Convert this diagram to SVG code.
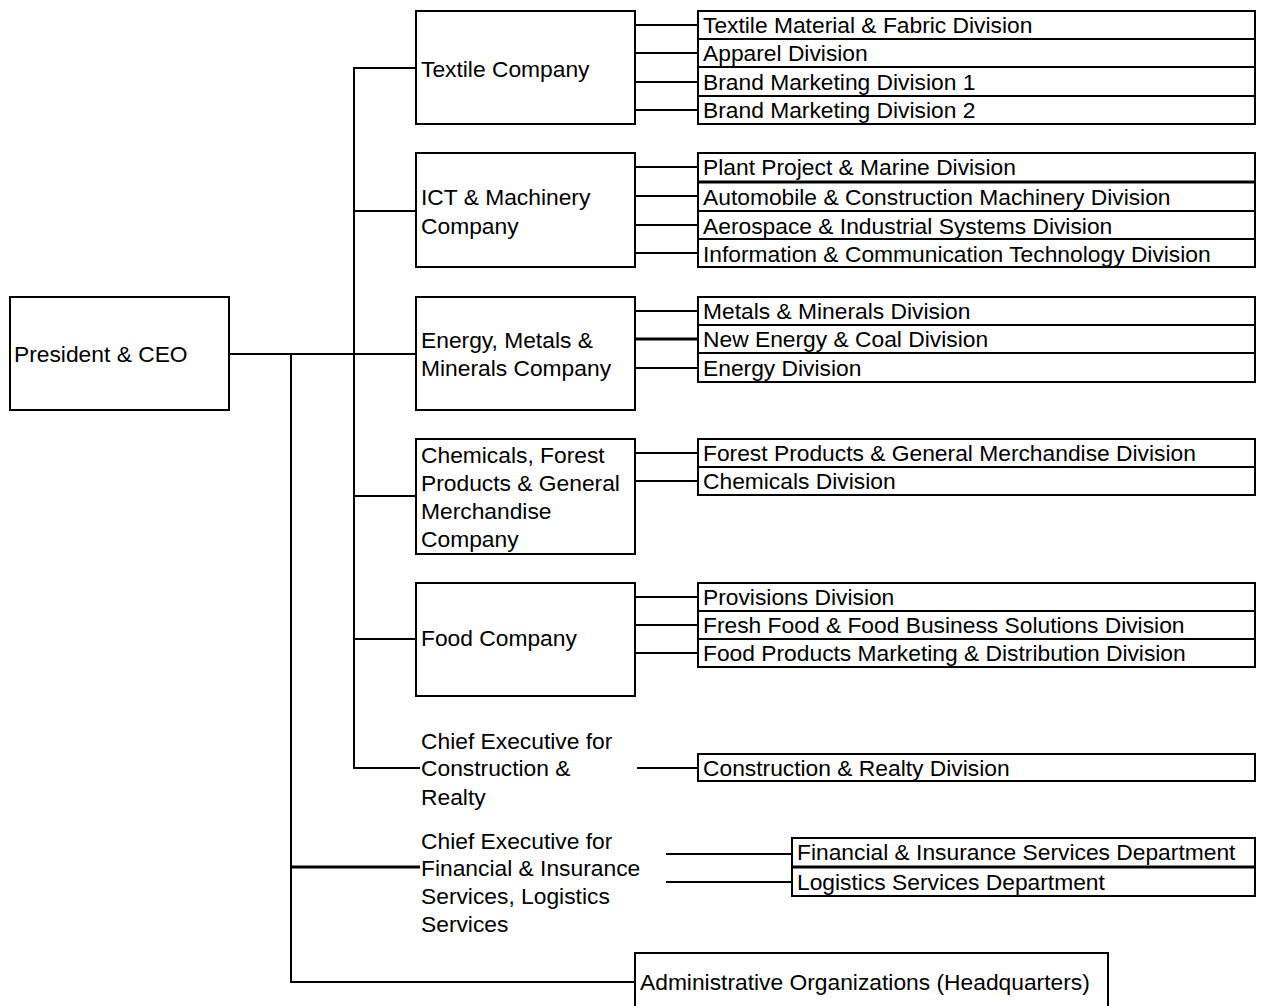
<svg xmlns="http://www.w3.org/2000/svg" width="1264" height="1006" viewBox="0 0 1264 1006">
<style>
.b{fill:#fff;stroke:#000;stroke-width:2}
.t{font-family:"Liberation Sans",Arial,sans-serif;font-size:22.8px;fill:#000}
.c line{stroke:#000;stroke-width:2}
</style>
<rect width="1264" height="1006" fill="#fff"/>
<g class="c" id="connectors">
<line x1="229" y1="354" x2="416" y2="354"/>
<line x1="291" y1="354" x2="291" y2="983"/>
<line x1="354" y1="68" x2="354" y2="769"/>
<line x1="353" y1="68" x2="416" y2="68"/>
<line x1="353" y1="211" x2="416" y2="211"/>
<line x1="353" y1="496" x2="416" y2="496"/>
<line x1="353" y1="639" x2="416" y2="639"/>
<line x1="353" y1="768" x2="420" y2="768"/>
<line x1="290" y1="867" x2="420" y2="867" style="stroke-width:3"/>
<line x1="290" y1="982" x2="635" y2="982"/>
<line x1="635" y1="25" x2="698" y2="25"/>
<line x1="635" y1="53" x2="698" y2="53"/>
<line x1="635" y1="82" x2="698" y2="82"/>
<line x1="635" y1="110" x2="698" y2="110"/>
<line x1="635" y1="167" x2="698" y2="167"/>
<line x1="635" y1="196" x2="698" y2="196"/>
<line x1="635" y1="225" x2="698" y2="225"/>
<line x1="635" y1="253" x2="698" y2="253"/>
<line x1="635" y1="311" x2="698" y2="311"/>
<line x1="635" y1="339" x2="698" y2="339" style="stroke-width:3"/>
<line x1="635" y1="368" x2="698" y2="368"/>
<line x1="635" y1="453" x2="698" y2="453"/>
<line x1="635" y1="481" x2="698" y2="481"/>
<line x1="635" y1="597" x2="698" y2="597"/>
<line x1="635" y1="625" x2="698" y2="625"/>
<line x1="635" y1="653" x2="698" y2="653"/>
<line x1="637" y1="768" x2="698" y2="768"/>
<line x1="666" y1="854" x2="792" y2="854"/>
<line x1="666" y1="882" x2="792" y2="882"/>
</g>
<g id="president"><rect class="b" x="10" y="297" width="219" height="113"/><text class="t" x="14" y="362">President &amp; CEO</text></g>
<g id="textile"><rect class="b" x="416" y="11" width="219" height="113"/><text class="t" x="421" y="77">Textile Company</text></g>
<g id="ict"><rect class="b" x="416" y="153" width="219" height="114"/><text class="t" x="421" y="205">ICT &amp; Machinery</text><text class="t" x="421" y="234">Company</text></g>
<g id="energy"><rect class="b" x="416" y="297" width="219" height="113"/><text class="t" x="421" y="348">Energy, Metals &amp;</text><text class="t" x="421" y="376">Minerals Company</text></g>
<g id="chemicals"><rect class="b" x="416" y="439" width="219" height="115"/><text class="t" x="421" y="463">Chemicals, Forest</text><text class="t" x="421" y="491">Products &amp; General</text><text class="t" x="421" y="519">Merchandise</text><text class="t" x="421" y="547">Company</text></g>
<g id="food"><rect class="b" x="416" y="583" width="219" height="113"/><text class="t" x="421" y="646">Food Company</text></g>
<g id="ce-construction"><text class="t" x="421" y="749">Chief Executive for</text><text class="t" x="421" y="776">Construction &amp;</text><text class="t" x="421" y="805">Realty</text></g>
<g id="ce-financial"><text class="t" x="421" y="849">Chief Executive for</text><text class="t" x="421" y="876">Financial &amp; Insurance</text><text class="t" x="421" y="904">Services, Logistics</text><text class="t" x="421" y="932">Services</text></g>
<g id="admin"><rect class="b" x="635" y="953" width="473" height="60"/><text class="t" x="640" y="990">Administrative Organizations (Headquarters)</text></g>
<g id="div-textile">
<rect class="b" x="698" y="11" width="557" height="28"/><text class="t" x="703" y="33">Textile Material &amp; Fabric Division</text>
<rect class="b" x="698" y="39" width="557" height="28"/><text class="t" x="703" y="61">Apparel Division</text>
<rect class="b" x="698" y="67" width="557" height="29"/><text class="t" x="703" y="90">Brand Marketing Division 1</text>
<rect class="b" x="698" y="96" width="557" height="28"/><text class="t" x="703" y="118">Brand Marketing Division 2</text>
</g>
<g id="div-ict">
<rect class="b" x="698" y="153" width="557" height="29"/><text class="t" x="703" y="175">Plant Project &amp; Marine Division</text>
<rect class="b" x="698" y="182" width="557" height="29"/><text class="t" x="703" y="205">Automobile &amp; Construction Machinery Division</text>
<rect class="b" x="698" y="211" width="557" height="28"/><text class="t" x="703" y="234">Aerospace &amp; Industrial Systems Division</text>
<rect class="b" x="698" y="239" width="557" height="28"/><text class="t" x="703" y="262">Information &amp; Communication Technology Division</text>
<line x1="698" y1="182" x2="1255" y2="182" stroke="#000" stroke-width="3"/>
</g>
<g id="div-energy">
<rect class="b" x="698" y="297" width="557" height="28"/><text class="t" x="703" y="319">Metals &amp; Minerals Division</text>
<rect class="b" x="698" y="325" width="557" height="28"/><text class="t" x="703" y="347">New Energy &amp; Coal Division</text>
<rect class="b" x="698" y="353" width="557" height="29"/><text class="t" x="703" y="376">Energy Division</text>
</g>
<g id="div-chemicals">
<rect class="b" x="698" y="439" width="557" height="28"/><text class="t" x="703" y="461">Forest Products &amp; General Merchandise Division</text>
<rect class="b" x="698" y="467" width="557" height="28"/><text class="t" x="703" y="489">Chemicals Division</text>
</g>
<g id="div-food">
<rect class="b" x="698" y="583" width="557" height="28"/><text class="t" x="703" y="605">Provisions Division</text>
<rect class="b" x="698" y="611" width="557" height="28"/><text class="t" x="703" y="633">Fresh Food &amp; Food Business Solutions Division</text>
<rect class="b" x="698" y="639" width="557" height="28"/><text class="t" x="703" y="661">Food Products Marketing &amp; Distribution Division</text>
</g>
<g id="div-construction">
<rect class="b" x="698" y="754" width="557" height="27"/><text class="t" x="703" y="776">Construction &amp; Realty Division</text>
</g>
<g id="dept-financial">
<rect class="b" x="792" y="838" width="463" height="29"/><text class="t" x="797" y="860">Financial &amp; Insurance Services Department</text>
<rect class="b" x="792" y="867" width="463" height="29"/><text class="t" x="797" y="890">Logistics Services Department</text>
<line x1="792" y1="867" x2="1255" y2="867" stroke="#000" stroke-width="3"/>
</g>
</svg>
